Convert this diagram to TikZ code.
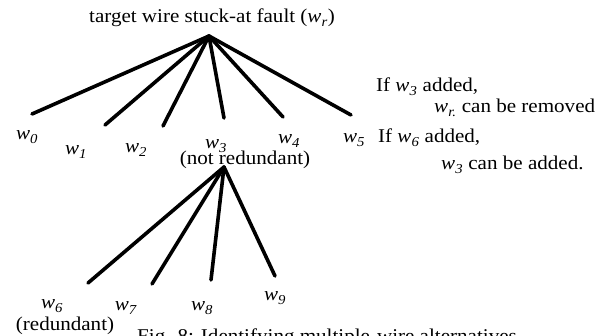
\documentclass[tikz,border=0pt]{standalone}
\usepackage{fontspec}
\setmainfont{Liberation Serif}[FakeStretch=1.08]
\usetikzlibrary{positioning}
\tikzset{
 faultfig/.style={font=\fontsize{19.5}{23}\selectfont,line cap=round,line join=round},
 wireline/.style={draw=black,line width=3.6pt},
 wlabel/.style={anchor=base,inner sep=0pt},
 note/.style={anchor=base west,inner sep=0pt}
}
\newcommand{\wire}[1]{\textit{w}\textsubscript{\textit{#1}}}

\begin{document}
\begin{tikzpicture}[faultfig,x=1pt,y=-1pt]
 \useasboundingbox (0,0) rectangle (608,336);
 \clip (0,0) rectangle (608,336);
 % first level: target wire and its alternatives
 \node[wlabel] (title) at (212,23) {target wire stuck-at fault (\wire{r})};
 \coordinate (top) at (209,36);
 \coordinate (e0) at (32,114);
 \coordinate (e1) at (105,125);
 \coordinate (e2) at (163,126);
 \coordinate (e3) at (224,118);
 \coordinate (e4) at (283,117);
 \coordinate (e5) at (351,115);
 \draw[wireline] (top)--(e0);
 \draw[wireline] (top)--(e1);
 \draw[wireline] (top)--(e2);
 \draw[wireline] (top)--(e3);
 \draw[wireline] (top)--(e4);
 \draw[wireline] (top)--(e5);
 \node[wlabel] (w0) at (27,140) {\wire{0}};
 \node[wlabel] (w1) at (76,155) {\wire{1}};
 \node[wlabel] (w2) at (136,153) {\wire{2}};
 \node[wlabel] (w3) at (216,149) {\wire{3}};
 \node[wlabel] (w4) at (289,144) {\wire{4}};
 \node[wlabel] (w5) at (354,143) {\wire{5}};
 \node[wlabel] (nr) at (245,165) {(not redundant)};
 % second level below w3
 \coordinate (sub) at (224,167);
 \coordinate (e6) at (88,283);
 \coordinate (e7) at (152,284);
 \coordinate (e8) at (211,280);
 \coordinate (e9) at (275,276);
 \draw[wireline] (sub)--(e6);
 \draw[wireline] (sub)--(e7);
 \draw[wireline] (sub)--(e8);
 \draw[wireline] (sub)--(e9);
 \node[wlabel] (w6) at (52,309) {\wire{6}};
 \node[wlabel] (w7) at (126,311) {\wire{7}};
 \node[wlabel] (w8) at (202,311) {\wire{8}};
 \node[wlabel] (w9) at (275,301) {\wire{9}};
 \node[wlabel] (red) at (65,331) {(redundant)};
 % notes
 \node[note] (n1) at (376,92) {If \wire{3} added,};
 \node[note] (n2) at (434,113) {\wire{r.} can be removed};
 \node[note] (n3) at (378,143) {If \wire{6} added,};
 \node[note] (n4) at (441,170) {\wire{3} can be added.};
 \node[note] (cap) at (137,343) {Fig. 8: Identifying multiple-wire alternatives};
\end{tikzpicture}
\end{document}
